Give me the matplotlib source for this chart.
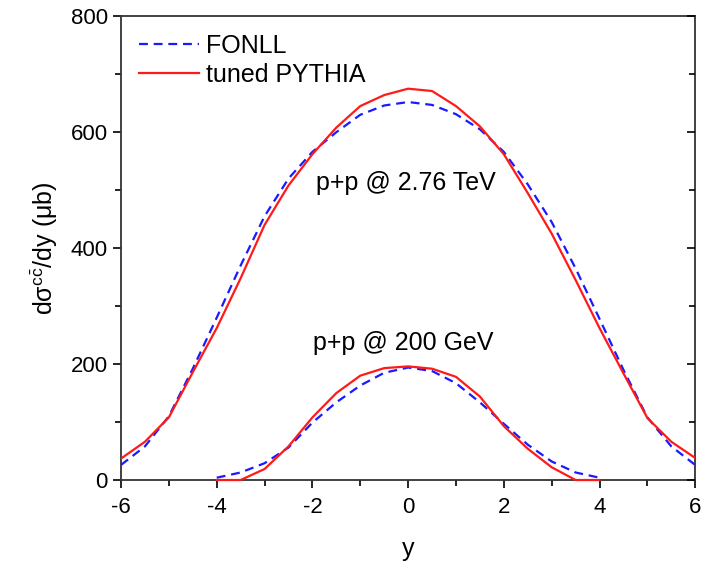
import numpy as np
import matplotlib as mpl
mpl.use('Agg')
import matplotlib.pyplot as plt
from matplotlib.ticker import MultipleLocator

# rapidity grid
y = [-6, -5.5, -5, -4.5, -4, -3.5, -3, -2.5, -2, -1.5, -1, -0.5, 0,
     0.5, 1, 1.5, 2, 2.5, 3, 3.5, 4, 4.5, 5, 5.5, 6]

# p+p @ 2.76 TeV
fonll_lhc = [26, 58, 110, 192, 280, 370, 455, 520, 566, 600, 630, 646, 652,
             647, 631, 605, 566, 510, 445, 365, 278, 190, 108, 58, 26]
pythia_lhc = [37, 66, 108, 186, 262, 348, 440, 508, 562, 608, 645, 664, 675,
              671, 645, 610, 562, 495, 425, 345, 262, 184, 107, 66, 38]

# p+p @ 200 GeV
y_rhic = [-4, -3.5, -3, -2.5, -2, -1.5, -1, -0.5, 0, 0.5, 1, 1.5, 2, 2.5, 3, 3.5, 4]
fonll_rhic = [4, 13, 29, 56, 99, 134, 163, 185, 194, 188, 167, 134, 97, 61, 32, 13, 4]
pythia_rhic = [0, 0, 19, 58, 108, 150, 180, 193, 196, 192, 178, 144, 93, 54, 22, 0, 0]

plt.rcParams['font.family'] = ['Liberation Sans', 'DejaVu Sans']
plt.rcParams['mathtext.fontset'] = 'custom'
plt.rcParams['mathtext.rm'] = 'Liberation Sans'
plt.rcParams['mathtext.it'] = 'Liberation Sans:italic'
plt.rcParams['axes.unicode_minus'] = False

fig = plt.figure(figsize=(7.16, 5.67), dpi=100)
ax = fig.add_axes([0.169, 0.1534, 0.802, 0.818])

blue = '#1a1aff'
red = '#ff1a1a'
dash = (0, (4, 2.6))
ax.plot(y, fonll_lhc, color=blue, linestyle=dash, linewidth=1.6, label='FONLL', zorder=3)
ax.plot(y, pythia_lhc, color=red, linestyle='-', linewidth=1.6, label='tuned PYTHIA', zorder=3)
ax.plot(y_rhic, fonll_rhic, color=blue, linestyle=dash, linewidth=1.6, zorder=3, clip_on=False)
ax.plot(y_rhic, pythia_rhic, color=red, linestyle='-', linewidth=1.6, zorder=3, clip_on=False)

ax.set_xlim(-6, 6)
ax.set_ylim(0, 800)
ax.xaxis.set_major_locator(MultipleLocator(2))
ax.xaxis.set_minor_locator(MultipleLocator(1))
ax.yaxis.set_major_locator(MultipleLocator(200))
ax.yaxis.set_minor_locator(MultipleLocator(100))
ax.tick_params(axis='both', which='both', labelsize=16, direction='out',
               top=False, right=False, width=1.2)
ax.tick_params(which='major', length=6)
ax.tick_params(which='minor', length=4)
ax.tick_params(axis='x', pad=6)
for s in ax.spines.values():
    s.set_linewidth(1.3)
    s.set_color('#333333')

# inward ticks on the right spine
ax2 = ax.twinx()
ax2.set_ylim(0, 800)
ax2.yaxis.set_major_locator(MultipleLocator(200))
ax2.yaxis.set_minor_locator(MultipleLocator(100))
ax2.tick_params(axis='y', which='both', direction='in', labelright=False, width=1.2)
ax2.tick_params(which='major', length=6)
ax2.tick_params(which='minor', length=4)
for s in ax2.spines.values():
    s.set_visible(False)

ax.set_xlabel('y', fontsize=18, labelpad=14)
ax.set_ylabel(r'dσ$^{\mathrm{c\bar{c}}}$/dy (μb)', fontsize=18, labelpad=8)

ax.text(-0.05, 513, 'p+p @ 2.76 TeV', fontsize=18, ha='center', va='center')
ax.text(-0.1, 237, 'p+p @ 200 GeV', fontsize=18, ha='center', va='center')

ax.legend(loc='upper left', frameon=False, fontsize=18, handlelength=2.4,
          handletextpad=0.3, labelspacing=0.2, borderaxespad=0.3,
          bbox_to_anchor=(0.0, 1.0))

fig.savefig('out.png', dpi=100)
plt.close()
